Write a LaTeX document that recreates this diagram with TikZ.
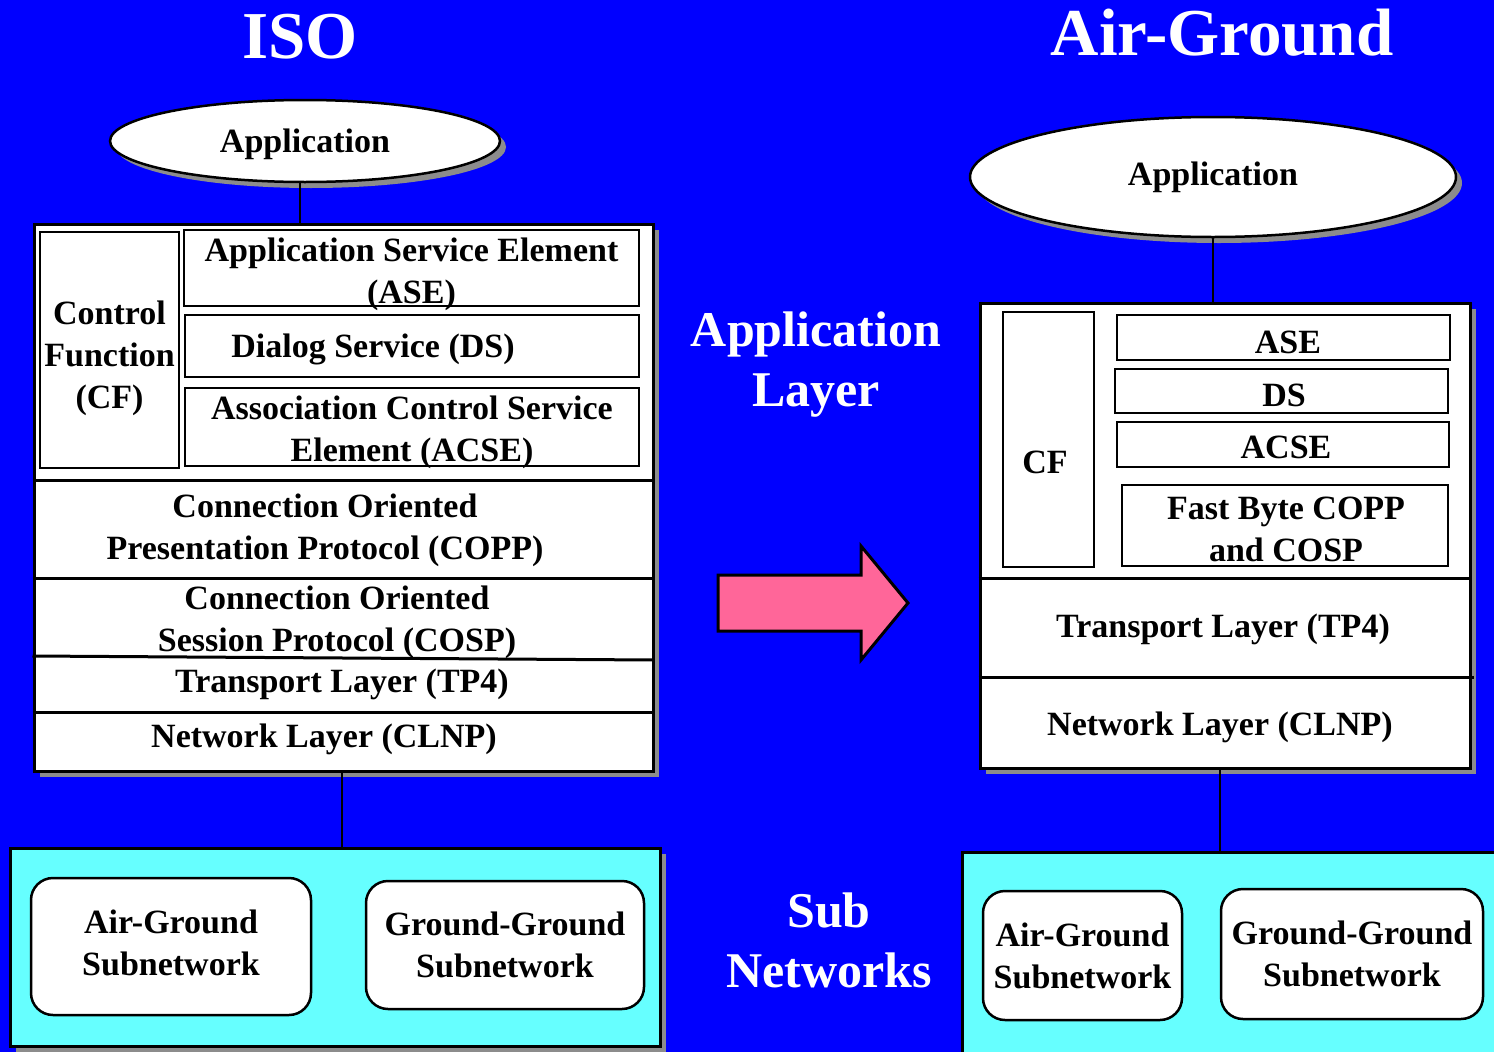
\documentclass[tikz,border=0pt]{standalone}
\usepackage{fontspec}
\setmainfont{Liberation Serif}
\usetikzlibrary{shapes.geometric,shadows}

\definecolor{slideblue}{RGB}{0,0,255}
\definecolor{netcyan}{RGB}{102,255,255}
\definecolor{arrowpink}{RGB}{255,102,153}
\definecolor{shadowgray}{RGB}{140,140,140}

\begin{document}
\begin{tikzpicture}[x=1pt,y=-1pt,
grayshadow/.style={drop shadow={shadow xshift=6pt,shadow yshift=-6pt,fill=shadowgray,opacity=1}},
appnode/.style={ellipse,grayshadow,draw=black,fill=white,line width=2.5pt,inner sep=0pt,font=\fontsize{34}{42}\selectfont\bfseries},
      layerbox/.style={rectangle,grayshadow,draw=black,fill=white,line width=3pt,inner sep=0pt},
      partbox/.style={rectangle,draw=black,fill=white,line width=2.5pt,inner sep=0pt,align=center,font=\fontsize{34}{42}\selectfont\bfseries},
      textnode/.style={inner sep=0pt,align=center,font=\fontsize{34}{42}\selectfont\bfseries},
      subnetbox/.style={partbox,rounded corners=22pt},
      netbox/.style={rectangle,grayshadow,draw=black,fill=netcyan,line width=3pt},
      bigtext/.style={inner sep=0pt,align=center,text=white,font=\fontsize{50}{60}\selectfont\bfseries},
      titletext/.style={inner sep=0pt,text=white,font=\fontsize{67}{80}\selectfont\bfseries}]
  \clip (0,0) rectangle (1494,1052);
  \fill[slideblue] (0,0) rectangle (1494,1052);

  \path
(300,37) node[titletext] (isotitle) {ISO}
(1222,33) node[titletext] (agtitle) {Air-Ground}

(305,141) node[appnode,minimum width=390pt,minimum height=82pt] (isoapp) {}
(305,144) node[textnode] (isoapptext) {Application}
(343.5,497.5) node[layerbox,minimum width=619pt,minimum height=547pt] (isostack) {}
(109.5,350) node[partbox,minimum width=139pt,minimum height=236pt] (isocf) {}
(109.5,358) node[textnode] (isocftext) {Control\\Function\\(CF)}
(411.5,268) node[partbox,minimum width=455pt,minimum height=76pt] (isoase) {}
(411.5,274) node[textnode] (isoasetext) {Application Service Element\\(ASE)}
(412,346) node[partbox,minimum width=454pt,minimum height=62pt] (isods) {}
(373,349) node[textnode] (isodstext) {Dialog Service (DS)}
(412,427) node[partbox,minimum width=454pt,minimum height=78pt] (isoacse) {}
(412,432.5) node[textnode] (isoacsetext) {Association Control Service\\Element (ACSE)}
(325,530) node[textnode] (isocopp) {Connection Oriented\\Presentation Protocol (COPP)}
(337,622) node[textnode] (isocosp) {Connection Oriented\\Session Protocol (COSP)}
(342,684) node[textnode] (isotp) {Transport Layer (TP4)}
(324,739) node[textnode] (isoclnp) {Network Layer (CLNP)}

   (335,947) node[netbox,minimum width=650pt,minimum height=198pt] (isonet) {}
   (171,946.5) node[subnetbox,minimum width=280pt,minimum height=137pt] (isoag) {}
   (171,943) node[textnode] (isoagtext) {Air-Ground\\Subnetwork}
   (505,945) node[subnetbox,minimum width=278pt,minimum height=128pt] (isogg) {Ground-Ground\\Subnetwork}

(816,365) node[bigtext] (applayer) {Application\\Layer}
(829,940) node[bigtext] (subnets) {Sub\\Networks}

(1213,177) node[appnode,minimum width=486pt,minimum height=120pt] (agapp) {Application}
(1225,535.5) node[layerbox,minimum width=490pt,minimum height=465pt] (agstack) {}
(1048.5,439.5) node[partbox,minimum width=91pt,minimum height=255pt] (agcf) {}
(1045,462) node[textnode] (agcftext) {CF}
(1283.5,337.5) node[partbox,minimum width=333pt,minimum height=45pt] (agase) {}
(1288,342) node[textnode] (agasetext) {ASE}
(1281.5,391) node[partbox,minimum width=333pt,minimum height=44pt] (agds) {}
(1284,395) node[textnode] (agdstext) {DS}
(1283,444.5) node[partbox,minimum width=332pt,minimum height=45pt] (agacse) {}
(1286,447) node[textnode] (agacsetext) {ACSE}
(1285,525.5) node[partbox,minimum width=326pt,minimum height=81pt] (agfast) {}
(1286,529.5) node[textnode] (agfasttext) {Fast Byte COPP\\and COSP}
(1223,629) node[textnode] (agtp) {Transport Layer (TP4)}
(1220,727) node[textnode] (agclnp) {Network Layer (CLNP)}

   (1236,961) node[netbox,minimum width=548pt,minimum height=218pt] (agnet) {}
   (1082.5,955.5) node[subnetbox,minimum width=199pt,minimum height=129pt] (agag) {Air-Ground\\Subnetwork}
   (1352,954) node[subnetbox,minimum width=262pt,minimum height=130pt] (aggg) {Ground-Ground\\Subnetwork}
  ;

  \draw[line width=3pt] (isostack.west |- 0,480) -- (isostack.east |- 0,480);
  \draw[line width=3pt] (isostack.west |- 0,578) -- (isostack.east |- 0,578);
  \draw[line width=3pt] (isostack.west |- 0,656) -- (isostack.east |- 0,660);
  \draw[line width=3pt] (isostack.west |- 0,712) -- (isostack.east |- 0,712);
  \draw[line width=3pt] (agstack.west |- 0,578) -- (agstack.east |- 0,578);
  \draw[line width=3pt] (agstack.west |- 0,677) -- ([xshift=2pt]agstack.east |- 0,677);

  \draw[line width=2pt] (isotitle.south |- isoapp.south) -- (isotitle.south |- isostack.north);
  \draw[line width=2pt] (isotp.south |- isostack.south) -- (isotp.south |- isonet.north);
  \draw[line width=2pt] (agapp.south) -- (agapp.south |- agstack.north);
  \draw[line width=2pt] (agclnp.south |- agstack.south) -- (agclnp.south |- agnet.north);

  \draw[line width=3pt,fill=arrowpink] (718,575) -- (861,575) -- (861,546) -- (908,603) -- (861,660) -- (861,631) -- (718,631) -- cycle;
\end{tikzpicture}
\end{document}
